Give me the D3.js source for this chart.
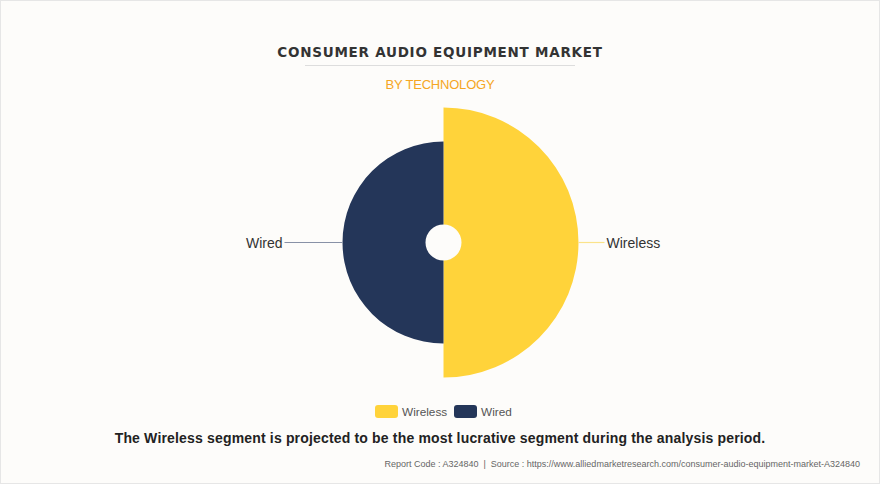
<!DOCTYPE html>
<html><head><meta charset="utf-8">
<script src="https://cdn.jsdelivr.net/npm/d3@7"></script>
<style>body{margin:0;background:#fff;}svg{display:block;}</style>
</head><body>
<script>
const categories = ["Wireless", "Wired"];
const shares = [50, 50];
const radii = [135, 101];
const colors = ["#FFD33A", "#243659"];
const lineColors = ["#FBE38A", "#8891A6"];

const W = 880, H = 484;
const svg = d3.select("body").append("svg").attr("width", W).attr("height", H);
svg.append("rect").attr("x", 0.5).attr("y", 0.5).attr("width", W - 1).attr("height", H - 1)
  .attr("fill", "#FDFCFA").attr("stroke", "#E6E6E6");

svg.append("text").attr("x", 440).attr("y", 57).attr("text-anchor", "middle")
  .attr("font-family", "Verdana, DejaVu Sans, sans-serif").attr("font-weight", "bold")
  .attr("font-size", 13.5).attr("letter-spacing", 0.75).attr("fill", "#333").text("CONSUMER AUDIO EQUIPMENT MARKET");
svg.append("line").attr("x1", 305).attr("x2", 575).attr("y1", 65.5).attr("y2", 65.5).attr("stroke", "#DDD");
svg.append("text").attr("x", 440).attr("y", 89).attr("text-anchor", "middle")
  .attr("font-family", "Liberation Sans, Arial, sans-serif").attr("font-size", 13).attr("font-weight", 500)
  .attr("fill", "#F5A623").attr("letter-spacing", -0.2).text("BY TECHNOLOGY");

const cx = 443.5, cy = 242.5;
const g = svg.append("g").attr("transform", `translate(${cx},${cy})`);
const pie = d3.pie().sort(null).value(d => d.v);
const data = categories.map((c, i) => ({c, v: shares[i], r: radii[i], col: colors[i], lc: lineColors[i]}));
const arcs = pie(data);
const rScale = d3.scaleLinear().domain([0, 135]).range([0, 135]);
g.selectAll("path").data(arcs).join("path")
  .attr("d", d => d3.arc().innerRadius(18).outerRadius(rScale(d.data.r))(d))
  .attr("fill", d => d.data.col);

// labels
arcs.forEach(d => {
  const mid = (d.startAngle + d.endAngle) / 2;
  const dir = Math.sin(mid) > 0 ? 1 : -1;
  const r = rScale(d.data.r);
  const len = dir > 0 ? 26 : 58;
  g.append("line").attr("x1", dir * r).attr("x2", dir * (r + len)).attr("y1", 0).attr("y2", 0)
    .attr("stroke", d.data.lc).attr("stroke-width", 1.2);
  g.append("text").attr("x", dir * (r + len + 2)).attr("y", 5)
    .attr("text-anchor", dir > 0 ? "start" : "end")
    .attr("font-family", "Liberation Sans, Arial, sans-serif").attr("font-size", 14)
    .attr("fill", "#333").text(d.data.c);
});

// legend
const lg = svg.append("g");
const lx = [375, 454];
data.forEach((d, i) => {
  lg.append("rect").attr("x", lx[i]).attr("y", 405).attr("width", 23).attr("height", 13).attr("rx", 3)
    .attr("fill", d.col);
  lg.append("text").attr("x", lx[i] + 27).attr("y", 415.5)
    .attr("font-family", "Liberation Sans, Arial, sans-serif").attr("font-size", 11.8)
    .attr("fill", "#555").text(d.c);
});

svg.append("text").attr("x", 440).attr("y", 443).attr("text-anchor", "middle")
  .attr("font-family", "Liberation Sans, Arial, sans-serif").attr("font-weight", "bold")
  .attr("font-size", 14).attr("letter-spacing", 0.17).attr("fill", "#222")
  .text("The Wireless segment is projected to be the most lucrative segment during the analysis period.");
svg.append("text").attr("x", 860).attr("y", 467).attr("text-anchor", "end")
  .attr("font-family", "Liberation Sans, Arial, sans-serif").attr("font-size", 9).attr("fill", "#666")
  .attr("xml:space", "preserve")
  .text("Report Code : A324840  |  Source : https://www.alliedmarketresearch.com/consumer-audio-equipment-market-A324840");
</script>
</body></html>
